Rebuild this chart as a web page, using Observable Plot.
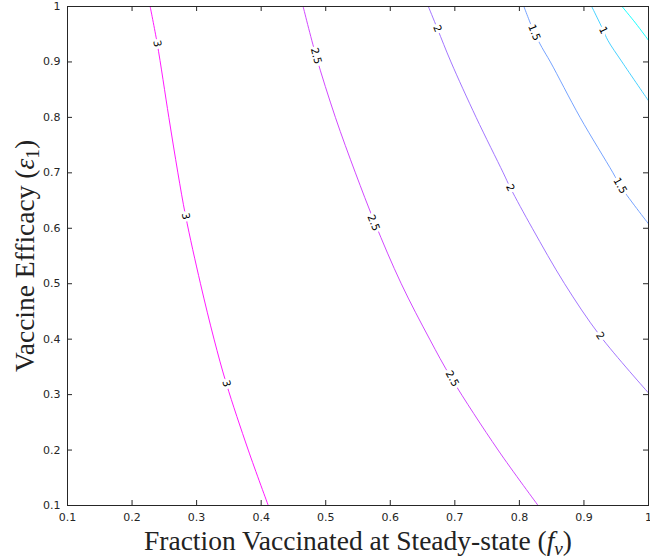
<!DOCTYPE html>
<html><head><meta charset="utf-8">
<script src="https://cdn.jsdelivr.net/npm/d3@7"></script>
<script src="https://cdn.jsdelivr.net/npm/@observablehq/plot@0.6"></script>
<style>body{margin:0;background:#fff}</style>
</head><body><div id="chart"></div>
<script>
// ---- data ----
const xTicks = [0.1, 0.2, 0.3, 0.4, 0.5, 0.6, 0.7, 0.8, 0.9, 1];
const yTicks = [0.1, 0.2, 0.3, 0.4, 0.5, 0.6, 0.7, 0.8, 0.9, 1];

const levels = [3, 2.5, 2, 1.5, 1, 0.5];
const levelColors = ["#ff00ff", "#cc33ff", "#9966ff", "#6699ff", "#33ccff", "#00ffff"];

const level3X  = [0.228, 0.239, 0.257, 0.271, 0.283, 0.306, 0.327, 0.346, 0.380, 0.411];
const level3Y  = [1.000, 0.933, 0.800, 0.700, 0.622, 0.500, 0.400, 0.320, 0.200, 0.100];
const level25X = [0.465, 0.485, 0.515, 0.546, 0.576, 0.617, 0.661, 0.695, 0.767, 0.829];
const level25Y = [1.000, 0.911, 0.800, 0.700, 0.610, 0.500, 0.400, 0.329, 0.200, 0.100];
const level2X  = [0.659, 0.673, 0.694, 0.733, 0.775, 0.786, 0.820, 0.870, 0.925, 1.000];
const level2Y  = [1.000, 0.960, 0.900, 0.800, 0.700, 0.673, 0.600, 0.500, 0.406, 0.303];
const level15X = [0.807, 0.823, 0.835, 0.848, 0.894, 0.945, 0.956, 1.000];
const level15Y = [1.000, 0.953, 0.926, 0.900, 0.800, 0.700, 0.677, 0.608];
const level1X  = [0.912, 0.930, 0.937, 0.959, 1.000];
const level1Y  = [1.000, 0.957, 0.939, 0.900, 0.830];
const level05X = [0.959, 0.980, 1.000];
const level05Y = [1.000, 0.970, 0.939];

const labelLevel = [3, 3, 3, 2.5, 2.5, 2.5, 2, 2, 2, 1.5, 1.5, 1];
const labelX = [0.239, 0.283, 0.346, 0.485, 0.574, 0.696, 0.673, 0.786, 0.925, 0.823, 0.956, 0.930];
const labelY = [0.933, 0.622, 0.320, 0.911, 0.610, 0.329, 0.960, 0.673, 0.406, 0.953, 0.677, 0.957];

const xLabel = "Fraction Vaccinated at Steady-state (fv)";
const yLabel = "Vaccine Efficacy (ε1)";

// ---- layout ----
const W = 650, H = 560, mL = 67, mR = 2, mT = 6, mB = 55;
const pw = W - mL - mR, ph = H - mT - mB;
const kx = pw / 0.9, ky = ph / 0.9;

const series = [
  [3, level3X, level3Y], [2.5, level25X, level25Y], [2, level2X, level2Y],
  [1.5, level15X, level15Y], [1, level1X, level1Y], [0.5, level05X, level05Y]
];
const rows = [];
for (const [lv, xs, ys] of series) xs.forEach((x, j) => rows.push({level: lv, x, y: ys[j]}));

function angleAt(lv, y) {
  const [, xs, ys] = series.find(s => s[0] === lv);
  let j = 0;
  while (j < ys.length - 2 && ys[j + 1] > y) j++;
  const dx = (xs[j + 1] - xs[j]) * kx, dy = (ys[j] - ys[j + 1]) * ky;
  return Math.atan2(dy, dx) * 180 / Math.PI;
}
const labels = labelLevel.map((lv, i) => ({level: lv, x: labelX[i], y: labelY[i], rotate: angleAt(lv, labelY[i])}));

const axisColor = "#262626";
const plot = Plot.plot({
  width: W, height: H,
  marginLeft: mL, marginRight: mR, marginTop: mT, marginBottom: mB,
  style: {fontFamily: "DejaVu Sans", background: "#fff", overflow: "visible"},
  x: {domain: [0.1, 1], axis: null},
  y: {domain: [0.1, 1], axis: null},
  color: {type: "ordinal", domain: levels, range: levelColors},
  marks: [
    Plot.line(rows, {x: "x", y: "y", z: "level", stroke: "level", strokeWidth: 0.9, curve: "catmull-rom"}),
    Plot.text(labels, {x: "x", y: "y", text: d => String(d.level), rotate: "rotate",
      fontSize: 10.5, fill: "#000", stroke: "#fff", strokeWidth: 6}),
    Plot.frame({stroke: axisColor, strokeWidth: 1}),
    Plot.tickX(xTicks, {x: d => d, insetTop: ph - 5, stroke: axisColor}),
    Plot.tickX(xTicks, {x: d => d, insetBottom: ph - 5, stroke: axisColor}),
    Plot.tickY(yTicks, {y: d => d, insetRight: pw - 5, stroke: axisColor}),
    Plot.tickY(yTicks, {y: d => d, insetLeft: pw - 5, stroke: axisColor}),
    Plot.axisX(xTicks, {tickSize: 0, tickPadding: 8, fontSize: 11, label: null, color: axisColor, tickFormat: d => String(d)}),
    Plot.axisY(yTicks, {tickSize: 0, tickPadding: 7, fontSize: 11, label: null, color: axisColor, tickFormat: d => String(d)}),
    Plot.text([xLabel], {frameAnchor: "bottom", textAnchor: "middle", lineAnchor: "middle", dy: 36, fontSize: 27.5, fontFamily: "Liberation Serif", fill: "#222", className: "xlab"}),
    Plot.text([yLabel], {frameAnchor: "left", textAnchor: "middle", lineAnchor: "middle", dx: -42, rotate: -90, fontSize: 27.5, fontFamily: "Liberation Serif", fill: "#222", className: "ylab"})
  ]
});
document.getElementById("chart").appendChild(plot);

// rich text for the math parts of the axis labels
const ns = "http://www.w3.org/2000/svg";
function rich(textEl, parts) {
  while (textEl.firstChild) textEl.removeChild(textEl.firstChild);
  for (const p of parts) {
    const t = document.createElementNS(ns, "tspan");
    t.textContent = p.t;
    if (p.italic) t.setAttribute("font-style", "italic");
    if (p.size) t.setAttribute("font-size", p.size);
    if (p.dy) t.setAttribute("dy", p.dy);
    textEl.appendChild(t);
  }
}
function fixLabel(cls, parts) {
  const el = plot.querySelector("." + cls + " text");
  if (!el) return;
  const dy = el.getAttribute("dy");
  rich(el, parts);
  if (dy) el.setAttribute("dy", dy);
}
fixLabel("xlab", [
  {t: "Fraction Vaccinated at Steady-state ("},
  {t: "f", italic: true},
  {t: "v", italic: true, size: "70%", dy: "0.25em"},
  {t: ")", dy: "-0.18em"}
]);
fixLabel("ylab", [
  {t: "Vaccine Efficacy ("},
  {t: "ε", italic: true},
  {t: "1", size: "70%", dy: "0.25em"},
  {t: ")", dy: "-0.18em"}
]);
</script>
</body></html>
